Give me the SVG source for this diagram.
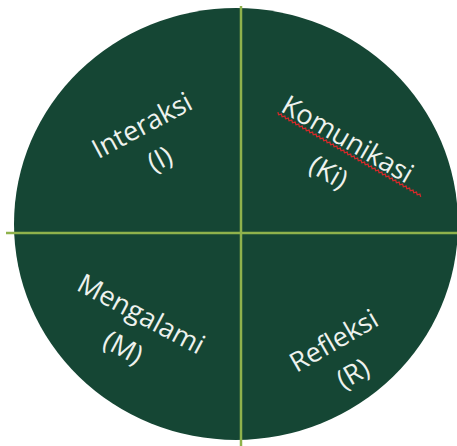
<svg xmlns="http://www.w3.org/2000/svg" width="457" height="446" viewBox="0 0 457 446">
  <style>
    .lbl { font-family: "Open Sans", "Noto Sans", sans-serif; font-size: 27px; fill: #eef2ee; text-anchor: middle; }
    .axis { stroke: #8fb24c; stroke-width: 2.5; fill: none; }
  </style>
  <rect width="457" height="446" fill="#ffffff"/>
  <ellipse id="disc" cx="236" cy="224" rx="222" ry="216" fill="#154634"/>
  <g id="connectors">
    <line class="axis" x1="241" y1="6" x2="241" y2="446"/>
    <line class="axis" x1="6" y1="233" x2="457" y2="233"/>
  </g>
  <g id="interaksi" transform="translate(151,142.5) rotate(-28)">
    <text class="lbl" x="0" y="-10">Interaksi</text>
    <text class="lbl" x="0" y="28">(I)</text>
  </g>
  <g id="komunikasi" transform="translate(338,156) rotate(30)">
    <text class="lbl" x="0" y="-10">Komunikasi</text>
    <path d="M-74,-8 l2,2 l2,-2 l2,2 l2,-2 l2,2 l2,-2 l2,2 l2,-2 l2,2 l2,-2 l2,2 l2,-2 l2,2 l2,-2 l2,2 l2,-2 l2,2 l2,-2 l2,2 l2,-2 l2,2 l2,-2 l2,2 l2,-2 l2,2 l2,-2 l2,2 l2,-2 l2,2 l2,-2 l2,2 l2,-2 l2,2 l2,-2 l2,2 l2,-2 l2,2 l2,-2 l2,2 l2,-2 l2,2 l2,-2 l2,2 l2,-2 l2,2 l2,-2 l2,2 l2,-2 l2,2 l2,-2 l2,2 l2,-2 l2,2 l2,-2 l2,2 l2,-2 l2,2 l2,-2 l2,2 l2,-2 l2,2 l2,-2 l2,2 l2,-2 l2,2 l2,-2 l2,2 l2,-2 l2,2 l2,-2 l2,2 l2,-2 l2,2 l2,-2 l2,2 l2,-2 l2,2 l2,-2 l2,2 l2,-2 l2,2 l2,-2 l2,2" fill="none" stroke="#d42a2a" stroke-width="1.3"/>
    <text class="lbl" x="0" y="28">(Ki)</text>
  </g>
  <g id="mengalami" transform="translate(132,331) rotate(28)">
    <text class="lbl" x="0" y="-10">Mengalami</text>
    <text class="lbl" x="0" y="28">(M)</text>
  </g>
  <g id="refleksi" transform="translate(343.5,357.5) rotate(-30)">
    <text class="lbl" x="0" y="-10">Refleksi</text>
    <text class="lbl" x="0" y="28">(R)</text>
  </g>
</svg>
